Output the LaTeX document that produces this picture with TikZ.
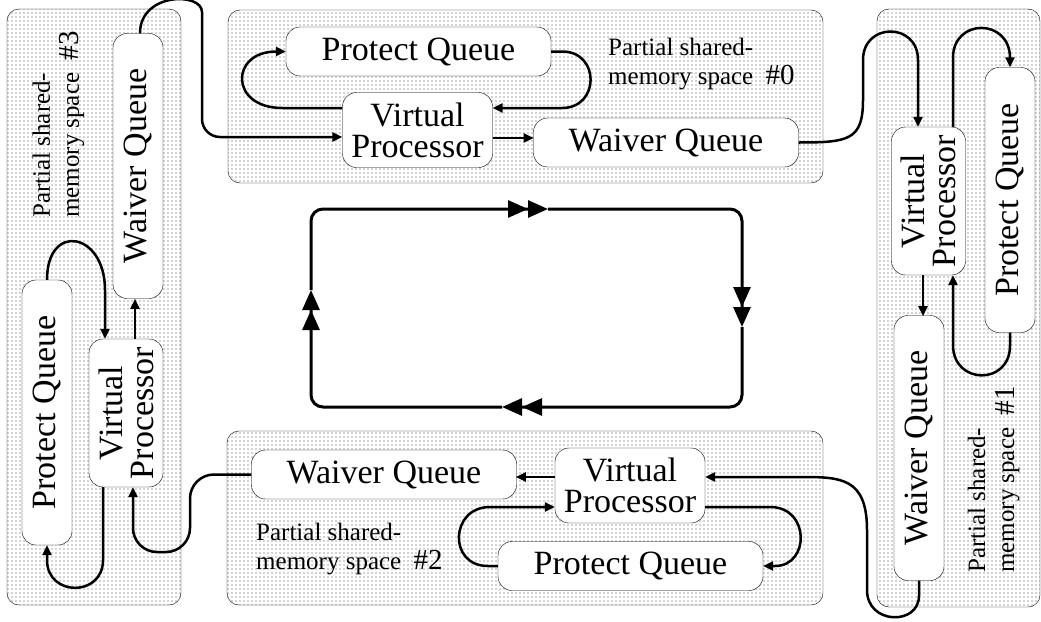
\documentclass[tikz,border=0pt]{standalone}
\usepackage{fontspec}
\setmainfont{Liberation Serif}
\usepackage{tikz}
\usetikzlibrary{arrows.meta,patterns}

\pgfdeclarepatternformonly{finedots}{\pgfqpoint{-1pt}{-1pt}}{\pgfqpoint{1pt}{1pt}}{\pgfqpoint{4pt}{4pt}}{%
  \pgfpathcircle{\pgfqpoint{0pt}{0pt}}{0.6pt}\pgfusepath{fill}}
\newcommand{\vtext}[1]{\rotatebox{90}{\vbox{\halign{\hfil##\hfil\cr#1\cr}}}}
\newcommand{\spacelabel}[1]{\begin{tabular}{@{}l@{}}Partial shared-\\memory space\hspace{6pt} {\fontsize{29}{29}\selectfont\##1}\end{tabular}}

\begin{document}
\begin{tikzpicture}[x=1pt,y=-1pt]
      \tikzstyle{queue}=[draw, fill=white, rounded corners=14pt, inner sep=0pt,
        font=\fontsize{34}{31}\selectfont]
      \tikzstyle{hq}=[queue, minimum width=265pt, minimum height=49pt]
      \tikzstyle{vq}=[queue, minimum width=50pt, minimum height=265pt]
      \tikzstyle{hp}=[queue, align=center, minimum width=150pt, minimum height=75pt]
      \tikzstyle{vp}=[queue, minimum width=74pt, minimum height=148pt]
      \tikzstyle{space}=[draw=black, rounded corners=12pt, pattern=finedots, pattern color=black!75]
      \tikzstyle{note}=[inner sep=0pt, font=\fontsize{25}{29}\selectfont]
      \tikzstyle{conn}=[line width=2.5pt, -{Triangle[length=10pt,width=9pt]}]
      \tikzstyle{link}=[line width=2pt, -{Triangle[length=10pt,width=9pt]}]
      \tikzstyle{ring}=[line width=3pt, rounded corners=12pt,
        -{Triangle[length=20pt,width=17pt] Triangle[length=20pt,width=17pt]}]

      \useasboundingbox (0,0) rectangle (1041,621);

      % partial shared-memory spaces
      \foreach \xa/\ya/\xb/\yb in {7/9/181/605, 228/10/823/183, 877/9/1040/607, 227/431/823/605}
        \draw[space] (\xa,\ya) rectangle (\xb,\yb);

      % space #0
      \node[hq] (pq0) at (418.5,51.5) {Protect Queue};
      \node[hp] (vp0) at (417.5,130) {Virtual\\Processor};
      \node[hq] (wq0) at (666,142.5) {Waiver Queue};
      \node[note, anchor=north west] (l0) at (608,34.7) {\spacelabel{0}};
      % space #1
      \node[vp] (vp1) at (928.5,201) {\vtext{Virtual\cr Processor}};
      \node[vq] (pq1) at (1010,200) {\rotatebox{90}{Protect Queue}};
      \node[vq] (wq1) at (919,448) {\rotatebox{90}{Waiver Queue}};
      \node[note, anchor=south] (l1) at (993.7,573) {\rotatebox{90}{\spacelabel{1}}};
      % space #2
      \node[hq] (wq2) at (384,474.5) {Waiver Queue};
      \node[hp] (vp2) at (630,485.5) {Virtual\\Processor};
      \node[hq] (pq2) at (630.5,566) {Protect Queue};
      \node[note, anchor=north west] (l2) at (256,519.7) {\spacelabel{2}};
      % space #3
      \node[vq] (wq3) at (138,166) {\rotatebox{90}{Waiver Queue}};
      \node[vq] (pq3) at (47,412.5) {\rotatebox{90}{Protect Queue}};
      \node[vp] (vp3) at (126,413) {\vtext{Virtual\cr Processor}};
      \node[note, anchor=south] (l3) at (58.7,218) {\rotatebox{90}{\spacelabel{3}}};

      % inside #0
      \draw[conn] ([yshift=22pt]vp0.west) -- ++(-60,0) .. controls +(-53,0) and +(-56,0) .. (pq0.west);
      \draw[conn] (pq0.east) -- ++(11,0) .. controls +(38,0) and +(38,0) .. (562,108) -- ([yshift=22pt]vp0.east);
      \draw[link] ([yshift=-8pt]vp0.east) -- ++(41,0);
      % #0 to #1
      \draw[conn] (wq0.east) .. controls +(50,0) and +(0,40) .. (863,100) -- (863,60)
        .. controls +(0,-38) and +(0,-38) .. (918,60) -- ([xshift=-10.5pt]vp1.north);
      % inside #1
      \draw[conn] ([xshift=24.5pt]vp1.north) -- ++(0,-69) .. controls +(0,-40) and +(0,-40) .. (1010,58) -- (pq1.north);
      \draw[conn] (pq1.south) -- ++(0,13) .. controls +(0,40) and +(0,40) .. (953,345) -- ([xshift=24.5pt]vp1.south);
      \draw[link] ([xshift=-5.5pt]vp1.south) -- ++(0,41);
      % #1 to #2
      \draw[conn] (wq1.south) -- ++(0,15) .. controls +(0,30) and +(0,35) .. (867,590) -- (867,530)
        .. controls +(0,-53) and +(40,0) .. (800,477) -- ([yshift=8.5pt]vp2.east);
      % inside #2
      \draw[link] ([yshift=8.5pt]vp2.west) -- ++(-39,0);
      \draw[conn] ([yshift=-21.5pt]vp2.east) -- ++(65,0) .. controls +(40,0) and +(35,0) .. (775,566) -- (pq2.east);
      \draw[conn] (pq2.west) -- ++(-10,0) .. controls +(-40,0) and +(-40,0) .. (490,507) -- ([yshift=-21.5pt]vp2.west);
      % #2 to #3
      \draw[conn, rounded corners=24pt] (wq2.west) -- (190,474.5) -- (190,552) -- (133,552) -- ([xshift=7pt]vp3.south);
      % inside #3
      \draw[conn] (pq3.north) .. controls +(0,-58) and +(0,-58) .. (105,290) -- ([xshift=-21pt]vp3.north);
      \draw[link] ([xshift=9pt]vp3.north) -- ++(0,-40);
      \draw[conn] ([xshift=-23pt]vp3.south) -- ++(0,73) .. controls +(0,37) and +(0,37) .. (47,560) -- (pq3.south);
      % #3 to #0
      \draw[conn, rounded corners=18pt] ([xshift=2pt]wq3.north) .. controls +(0,-41) and +(0,-38) .. (202,30)
        -- (202,137) -- ([yshift=-7pt]vp0.west);

      % ring
      \coordinate (n) at (548,209);
      \coordinate (e) at (742,327);
      \coordinate (s) at (502,407);
      \coordinate (w) at (311,290);
      \draw[ring] (w) |- (n);
      \draw[ring] (n) -| (e);
      \draw[ring] (e) |- (s);
      \draw[ring] (s) -| (w);
\end{tikzpicture}
\end{document}
